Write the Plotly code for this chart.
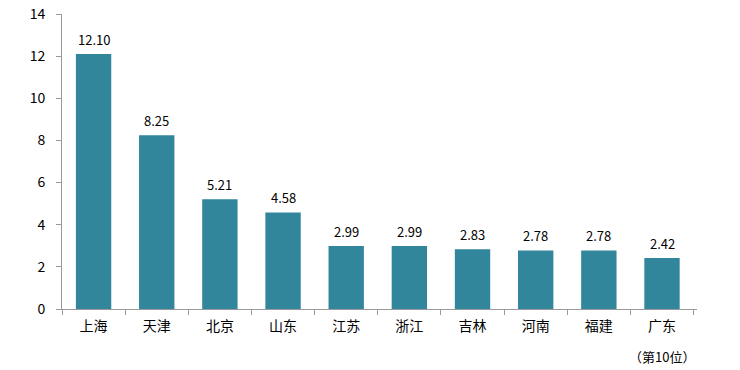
import plotly.graph_objects as go

categories = ["上海", "天津", "北京", "山东", "江苏", "浙江", "吉林", "河南", "福建", "广东"]
values = [12.10, 8.25, 5.21, 4.58, 2.99, 2.99, 2.83, 2.78, 2.78, 2.42]
value_labels = ["12.10", "8.25", "5.21", "4.58", "2.99", "2.99", "2.83", "2.78", "2.78", "2.42"]
y_ticks = [0, 2, 4, 6, 8, 10, 12, 14]
note_text = "（第10位）"

font_family = "Microsoft YaHei, Noto Sans CJK SC, sans-serif"

fig = go.Figure(go.Bar(
    x=categories, y=values,
    marker=dict(color="#31869B", line=dict(width=0)),
    width=0.56,
))

for c, v, t in zip(categories, values, value_labels):
    fig.add_annotation(
        x=c, y=v, xref="x", yref="y", text=t, showarrow=False,
        yanchor="bottom", yshift=3,
        font=dict(size=13, color="#000000", family=font_family),
    )

fig.update_layout(
    width=740, height=370,
    margin=dict(l=62, r=43, t=14, b=61, autoexpand=False),
    paper_bgcolor="white", plot_bgcolor="white",
    showlegend=False,
    font=dict(family=font_family, color="#000000", size=14),
    xaxis=dict(
        showline=True, linecolor="#999999", linewidth=1,
        ticks="outside", tickson="boundaries", ticklen=5, tickcolor="#999999",
        tickfont=dict(size=14), showgrid=False, automargin=False,
        ticklabelstandoff=4,
    ),
    yaxis=dict(
        range=[0, 14], tickvals=y_ticks,
        showline=True, linecolor="#999999", linewidth=1,
        ticks="outside", ticklen=5, tickcolor="#999999",
        showgrid=False, zeroline=False, tickfont=dict(size=14),
        ticklabelstandoff=8, automargin=False,
    ),
)

fig.add_annotation(
    x=categories[-1], y=0, xref="x", yref="y",
    text=note_text, showarrow=False, yanchor="top", yshift=-36,
    font=dict(size=13, family=font_family),
)

fig.write_html("out.html", config={"displayModeBar": False},
               post_script="document.body.style.margin='0';")
